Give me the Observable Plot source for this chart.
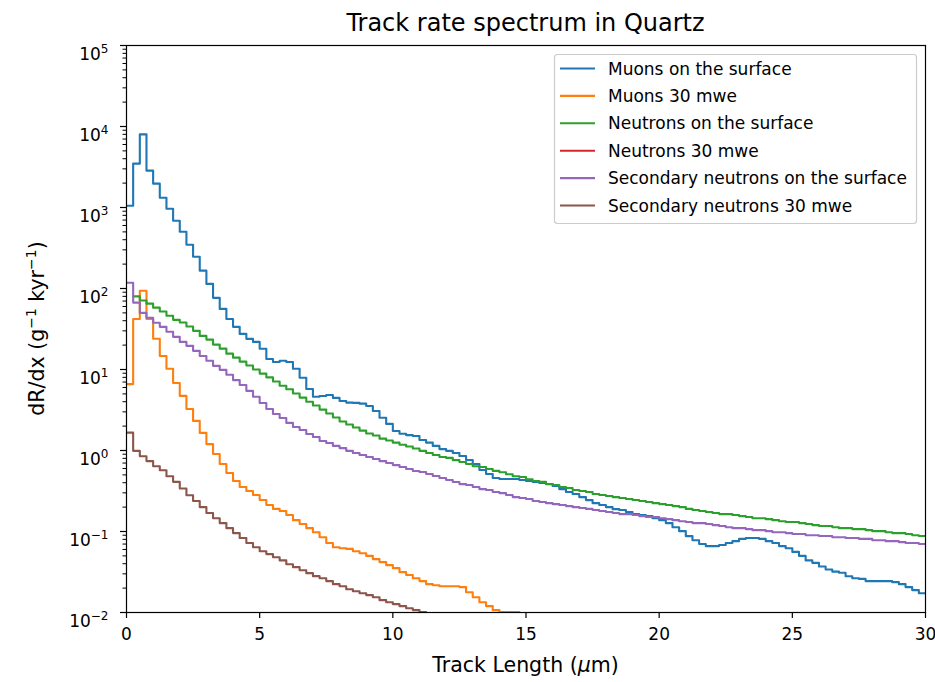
<!DOCTYPE html>
<html>
<head>
<meta charset="utf-8">
<script src="https://cdn.jsdelivr.net/npm/d3@7"></script>
<script src="https://cdn.jsdelivr.net/npm/@observablehq/plot@0.6"></script>
<style>
  body { margin: 0; background: #fff; }
  #chart svg { display: block; }
</style>
</head>
<body>
<div id="chart"></div>
<script>
// ---------------- data ----------------
const binWidth = 0.25; // µm per histogram bin

const seriesNames = [
  "Muons on the surface",
  "Muons 30 mwe",
  "Neutrons on the surface",
  "Neutrons 30 mwe",
  "Secondary neutrons on the surface",
  "Secondary neutrons 30 mwe"
];
const seriesColors = ["#1f77b4", "#ff7f0e", "#2ca02c", "#d62728", "#9467bd", "#8c564b"];

const muonsSurface = [
  1050, 3480, 8000, 2850, 1970, 1320, 966, 687, 502, 347, 247, 166, 114, 76.7, 56, 42, 33.6, 27.5, 23.9, 21.9,
  18, 13.5, 12.4, 12.8, 12.4, 10.2, 7.9, 5.75, 4.6, 4.7, 4.85, 4.46, 4.09, 3.9, 3.87, 3.79, 3.55, 3.08, 2.54, 2.13,
  1.74, 1.61, 1.55, 1.51, 1.35, 1.25, 1.14, 1.04, 0.99, 0.93, 0.855, 0.763, 0.681, 0.574, 0.512, 0.457, 0.444, 0.444, 0.444, 0.432,
  0.42, 0.408, 0.397, 0.386, 0.364, 0.334, 0.307, 0.29, 0.266, 0.244, 0.224, 0.212, 0.2, 0.189, 0.184, 0.174, 0.164, 0.16, 0.155, 0.146,
  0.138, 0.127, 0.113, 0.101, 0.0877, 0.078, 0.070, 0.066, 0.066, 0.068, 0.072, 0.076, 0.081, 0.083, 0.083, 0.081, 0.076, 0.072, 0.066, 0.062,
  0.056, 0.050, 0.044, 0.041, 0.037, 0.034, 0.032, 0.031, 0.028, 0.0265, 0.026, 0.0244, 0.0244, 0.0244, 0.0244, 0.0237, 0.0224, 0.0206, 0.0189, 0.0173
];

const muons30 = [
  6.6, 42, 94, 42, 24, 14.7, 10.2, 6.8, 4.72, 3.26, 2.32, 1.65, 1.2, 0.905, 0.68, 0.527, 0.42, 0.354, 0.316, 0.282,
  0.245, 0.212, 0.19, 0.179, 0.16, 0.138, 0.124, 0.11, 0.098, 0.085, 0.072, 0.064, 0.062, 0.061, 0.057, 0.054, 0.050, 0.0456, 0.0419, 0.0384,
  0.0353, 0.0315, 0.029, 0.0265, 0.0244, 0.0224, 0.0217, 0.0211, 0.0211, 0.0211, 0.0206, 0.0178, 0.0154, 0.0134, 0.012, 0.0107, 0.0101, 0.0101, 0.0101
];

const neutronsSurface = [
  null, 80, 71, 65, 58, 52, 46, 41, 38, 34, 30, 26, 23.4, 20.3, 18.1, 15.7, 14.0, 12.5, 11.2, 10,
  8.9, 8.0, 7.1, 6.3, 5.7, 5.05, 4.5, 4.0, 3.6, 3.2, 2.86, 2.55, 2.28, 2.09, 1.92, 1.76, 1.62, 1.53, 1.40, 1.33,
  1.25, 1.18, 1.12, 1.06, 0.99, 0.93, 0.88, 0.83, 0.81, 0.76, 0.72, 0.68, 0.64, 0.625, 0.59, 0.56, 0.54, 0.51, 0.48, 0.47,
  0.44, 0.42, 0.41, 0.385, 0.375, 0.354, 0.344, 0.325, 0.316, 0.307, 0.29, 0.282, 0.274, 0.266, 0.259, 0.252, 0.245, 0.238, 0.231, 0.224,
  0.218, 0.212, 0.206, 0.2, 0.19, 0.184, 0.179, 0.174, 0.169, 0.164, 0.164, 0.16, 0.155, 0.151, 0.146, 0.146, 0.142, 0.138, 0.134, 0.131,
  0.131, 0.127, 0.124, 0.12, 0.117, 0.117, 0.113, 0.11, 0.11, 0.107, 0.107, 0.104, 0.101, 0.101, 0.098, 0.0955, 0.0955, 0.093, 0.09, 0.088
];

const neutrons30 = []; // entirely below the plotted range

const secondarySurface = [
  118, 67, 50, 43.5, 37.7, 33.6, 29.2, 25.3, 21.9, 19.6, 17.0, 14.7, 12.8, 11.1, 9.9, 8.6, 7.4, 6.45, 5.45, 4.6,
  3.86, 3.26, 2.82, 2.52, 2.19, 1.95, 1.79, 1.60, 1.47, 1.31, 1.24, 1.14, 1.07, 0.99, 0.93, 0.88, 0.83, 0.785, 0.74, 0.70,
  0.66, 0.625, 0.59, 0.558, 0.543, 0.512, 0.484, 0.457, 0.432, 0.408, 0.385, 0.375, 0.354, 0.334, 0.325, 0.307, 0.298, 0.282, 0.266, 0.259,
  0.252, 0.238, 0.231, 0.224, 0.218, 0.212, 0.206, 0.20, 0.195, 0.19, 0.184, 0.179, 0.174, 0.169, 0.164, 0.164, 0.16, 0.155, 0.151, 0.151,
  0.146, 0.142, 0.138, 0.134, 0.131, 0.127, 0.127, 0.124, 0.12, 0.117, 0.113, 0.11, 0.11, 0.107, 0.104, 0.104, 0.101, 0.098, 0.098, 0.0955,
  0.093, 0.093, 0.090, 0.090, 0.088, 0.088, 0.085, 0.085, 0.083, 0.083, 0.081, 0.081, 0.078, 0.078, 0.076, 0.076, 0.074, 0.072, 0.072, 0.070
];

const secondary30 = [
  1.66, 0.99, 0.85, 0.74, 0.64, 0.57, 0.48, 0.41, 0.34, 0.28, 0.238, 0.2, 0.169, 0.146, 0.127, 0.11, 0.0955, 0.083, 0.072, 0.064,
  0.057, 0.0526, 0.048, 0.044, 0.0395, 0.0363, 0.0333, 0.0306, 0.0281, 0.0265, 0.0244, 0.0224, 0.0211, 0.0194, 0.0183, 0.0173, 0.0164, 0.0154, 0.0142, 0.0134,
  0.0127, 0.012, 0.0113, 0.0107, 0.0101
];

const xTicks = [0, 5, 10, 15, 20, 25, 30];
const xTickLabels = ["0", "5", "10", "15", "20", "25", "30"];
const yTicks = [1e-2, 1e-1, 1e0, 1e1, 1e2, 1e3, 1e4, 1e5];
const yTickBase = "10";
const yTickExponents = ["\u22122", "\u22121", "0", "1", "2", "3", "4", "5"];

const titleText = "Track rate spectrum in Quartz";
const xLabelText = ["Track Length (", "μ", "m)"];
const yLabelParts = ["dR/dx (g", "\u22121", " kyr", "\u22121", ")"];

// ---------------- build table ----------------
const seriesValues = [muonsSurface, muons30, neutronsSurface, neutrons30, secondarySurface, secondary30];
const rows = [];
seriesValues.forEach((vals, s) => {
  vals.forEach((v, i) => {
    const y = (v == null) ? NaN : v;
    rows.push({series: seriesNames[s], x: i * binWidth, y});
    rows.push({series: seriesNames[s], x: (i + 1) * binWidth, y});
  });
});

const minorTicks = [];
for (let e = -2; e < 5; e++) for (let m = 2; m <= 9; m++) minorTicks.push(m * Math.pow(10, e));

const FONT = "'DejaVu Sans', sans-serif";
const W = 935, H = 682;
const mL = 126, mR = 10, mT = 45, mB = 70;

const chart = Plot.plot({
  width: W,
  height: H,
  marginLeft: mL,
  marginRight: mR,
  marginTop: mT,
  marginBottom: mB,
  style: {fontFamily: FONT, fontSize: "17px", color: "black", background: "white"},
  x: {domain: [0, 30]},
  y: {type: "log", domain: [1e-2, 1e5]},
  color: {domain: seriesNames, range: seriesColors},
  marks: [
    Plot.line(rows, {x: "x", y: "y", z: "series", stroke: "series", strokeWidth: 2.1, clip: true}),
    Plot.frame({stroke: "black", strokeWidth: 1.2}),
    Plot.axisX({ticks: xTicks, tickFormat: d => xTickLabels[xTicks.indexOf(d)], tickSize: 6, tickPadding: 9, strokeWidth: 1.2, label: null}),
    Plot.axisY({ticks: yTicks, tickFormat: d => "E" + yTicks.indexOf(d), tickSize: 6, tickPadding: 12, strokeWidth: 1.2, label: null}),
    Plot.axisY({ticks: minorTicks, tickFormat: () => "", tickSize: 3.5, strokeWidth: 1, label: null})
  ]
});

document.getElementById("chart").appendChild(chart);

const svg = d3.select(chart);

// y tick labels as 10 with a raised exponent (like mathtext)
svg.selectAll("text").each(function () {
  const t = d3.select(this);
  const s = t.text();
  const m = /^E(\d)$/.exec(s);
  if (!m) return;
  const i = +m[1];
  t.text("");
  t.attr("dy", "9.5");
  t.append("tspan").text(yTickBase);
  t.append("tspan").attr("dy", "-7.5").style("font-size", "12px").text(yTickExponents[i]);
});

// ---------------- title, axis labels, legend ----------------
const cx = mL + (W - mL - mR) / 2;
const cy = mT + (H - mT - mB) / 2;

svg.append("text")
  .attr("x", cx).attr("y", 22).attr("dy", "0.36em")
  .attr("text-anchor", "middle")
  .style("font-family", FONT).style("font-size", "24px").attr("fill", "black")
  .text(titleText);

const xl = svg.append("text")
  .attr("x", cx).attr("y", 665).attr("dy", "0.36em")
  .attr("text-anchor", "middle")
  .style("font-family", FONT).style("font-size", "20.5px").attr("fill", "black");
xl.append("tspan").text(xLabelText[0]);
xl.append("tspan").style("font-style", "italic").text(xLabelText[1]);
xl.append("tspan").text(xLabelText[2]);

const yl = svg.append("text")
  .attr("transform", `translate(37,${cy}) rotate(-90)`)
  .attr("dy", "0.36em")
  .attr("text-anchor", "middle")
  .style("font-family", FONT).style("font-size", "20.5px").attr("fill", "black");
yl.append("tspan").text(yLabelParts[0]);
yl.append("tspan").attr("dy", "-8").style("font-size", "14px").text(yLabelParts[1]);
yl.append("tspan").attr("dy", "8").text(yLabelParts[2]);
yl.append("tspan").attr("dy", "-8").style("font-size", "14px").text(yLabelParts[3]);
yl.append("tspan").attr("dy", "8").text(yLabelParts[4]);

const lg = svg.append("g").attr("text-anchor", "start");
lg.append("rect")
  .attr("x", 554.5).attr("y", 54.5).attr("width", 362).attr("height", 169)
  .attr("rx", 3).attr("fill", "white").attr("fill-opacity", 0.8)
  .attr("stroke", "#cccccc").attr("stroke-width", 1.2);
seriesNames.forEach((name, i) => {
  const yy = 68.5 + i * 27.4;
  lg.append("line")
    .attr("x1", 560).attr("x2", 595).attr("y1", yy).attr("y2", yy)
    .attr("stroke", seriesColors[i]).attr("stroke-width", 2.1);
  lg.append("text")
    .attr("x", 608).attr("y", yy).attr("dy", "0.36em")
    .attr("text-anchor", "start")
    .style("font-family", FONT).style("font-size", "17px").attr("fill", "black")
    .text(name);
});
</script>
</body>
</html>
